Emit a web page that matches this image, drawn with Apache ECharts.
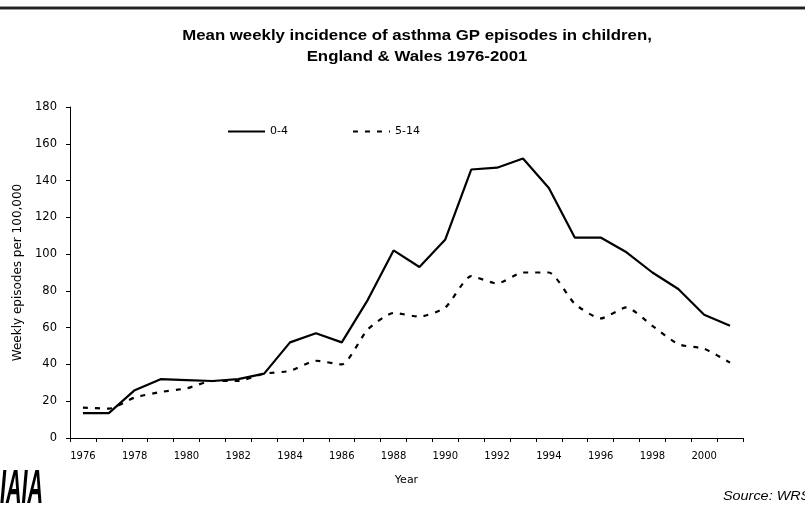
<!DOCTYPE html>
<html>
<head>
<meta charset="utf-8">
<script src="https://cdn.jsdelivr.net/npm/echarts@6/dist/echarts.min.js"></script>
<style>
  html, body { margin: 0; padding: 0; background: #fff; }
  #chart { width: 805px; height: 517px; }
</style>
</head>
<body>
<div id="chart"></div>
<script>
// Years on the x axis
const years = ['1976','1977','1978','1979','1980','1981','1982','1983','1984','1985','1986','1987','1988',
               '1989','1990','1991','1992','1993','1994','1995','1996','1997','1998','1999','2000','2001'];

// Mean weekly asthma GP episodes per 100,000, children aged 0-4
const age0to4 = [13.5, 13.5, 26, 32, 31.5, 31, 32, 35, 52, 57, 52, 75, 102,
                 93, 108, 146, 147, 152, 136, 109, 109, 101, 90, 81, 67, 61];

// Mean weekly asthma GP episodes per 100,000, children aged 5-14
const age5to14 = [16.5, 16, 22, 25, 27, 31, 31, 35, 36.5, 42, 40, 59, 68,
                  66, 71, 88, 84, 90, 90, 73, 65, 71, 61, 51, 48.5, 41];

const seriesNames = ['0-4', '5-14'];
const titleLines = ['Mean weekly incidence of asthma GP episodes in children,', 'England & Wales 1976-2001'];

const SANS = '"Liberation Sans", Arial, sans-serif';
const WIDE = '"DejaVu Sans", sans-serif';
const chart = echarts.init(document.getElementById('chart'), null, { renderer: 'canvas' });

chart.setOption({
  backgroundColor: '#ffffff',
  animation: false,
  grid: { left: 70, right: 62, top: 107, bottom: 79, containLabel: false },
  legend: {
    left: 222,
    top: 121,
    itemWidth: 37,
    itemHeight: 10,
    itemGap: 64,
    itemStyle: { opacity: 0 },
    textStyle: { fontFamily: WIDE, fontSize: 11, color: '#000' },
    data: seriesNames
  },
  xAxis: {
    type: 'category',
    data: years,
    boundaryGap: true,
    name: 'Year',
    nameLocation: 'middle',
    nameGap: 37,
    nameTextStyle: { fontFamily: WIDE, fontSize: 11, color: '#000' },
    axisLine: { lineStyle: { color: '#000', width: 1 } },
    axisTick: { show: true, length: 4, interval: 0, lineStyle: { color: '#000' } },
    axisLabel: { interval: 1, fontFamily: WIDE, fontSize: 10, color: '#000', margin: 13 },
    splitLine: { show: false }
  },
  yAxis: {
    type: 'value',
    min: 0,
    max: 180,
    interval: 20,
    name: 'Weekly episodes per 100,000',
    nameLocation: 'middle',
    nameGap: 40,
    nameRotate: 90,
    nameTextStyle: { fontFamily: WIDE, fontSize: 12, color: '#000' },
    axisLine: { show: true, lineStyle: { color: '#000', width: 1 } },
    axisTick: { show: true, length: 4, inside: false, lineStyle: { color: '#000' } },
    axisLabel: { fontFamily: WIDE, fontSize: 11.5, color: '#000', margin: 13 },
    splitLine: { show: false }
  },
  series: [
    {
      name: seriesNames[0],
      type: 'line',
      data: age0to4,
      symbol: 'none',
      lineStyle: { color: '#000', width: 2.2, type: 'solid' },
      itemStyle: { color: '#000' }
    },
    {
      name: seriesNames[1],
      type: 'line',
      data: age5to14,
      symbol: 'none',
      smooth: 0.2,
      lineStyle: { color: '#000', width: 2.2, type: [5, 7] },
      itemStyle: { color: '#000' }
    }
  ],
  graphic: [
    // top rule across the page
    { type: 'rect', shape: { x: 0, y: 7, width: 805, height: 2 }, style: { fill: '#222' } },
    { type: 'rect', shape: { x: 0, y: 6, width: 805, height: 1 }, style: { fill: '#999' } },
    { type: 'rect', shape: { x: 0, y: 9, width: 805, height: 1 }, style: { fill: '#999' } },
    // two-line heading
    {
      type: 'text', x: 417, y: 36, scaleX: 1.2,
      style: { text: titleLines[0], fontFamily: SANS, fontSize: 14, fontWeight: 'bold', fill: '#000', align: 'center', verticalAlign: 'middle' }
    },
    {
      type: 'text', x: 417, y: 57, scaleX: 1.2,
      style: { text: titleLines[1], fontFamily: SANS, fontSize: 14, fontWeight: 'bold', fill: '#000', align: 'center', verticalAlign: 'middle' }
    },
    // source note, runs off the right edge
    {
      type: 'text', x: 723, y: 497, scaleX: 1.2,
      style: { text: 'Source: WRS', fontFamily: SANS, fontSize: 12, fontStyle: 'italic', fill: '#000', verticalAlign: 'middle' }
    },
    // organisation mark, bottom left
    {
      type: 'text', x: 0, y: 490, scaleX: 0.45,
      style: { text: 'IAIA', fontFamily: SANS, fontSize: 48, fontWeight: 'bold', fontStyle: 'italic', fill: '#000', verticalAlign: 'middle' }
    }
  ]
});
</script>
</body>
</html>
